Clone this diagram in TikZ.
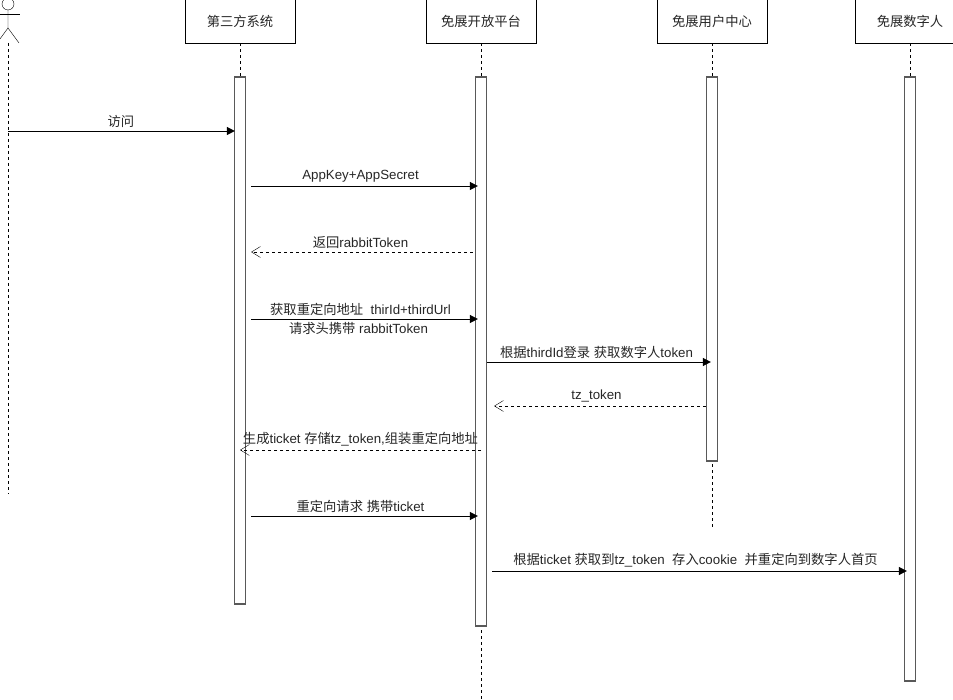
\documentclass[tikz,border=0pt]{standalone}
\usepackage{fontspec}
\setmainfont{Liberation Sans}
\newfontfamily\zhfont{Noto Sans CJK SC}
\usetikzlibrary{arrows.meta}

%% Han characters switch to the CJK font by themselves
\XeTeXinterchartokenstate=1
\newXeTeXintercharclass\zhclass
\count255="4E00
\loop\XeTeXcharclass\count255=\zhclass
  \ifnum\count255<"9FA5 \advance\count255 by 1 \repeat
\XeTeXinterchartoks 0 \zhclass = {\zhfont}
\XeTeXinterchartoks 4095 \zhclass = {\zhfont}
\XeTeXinterchartoks \zhclass 0 = {\normalfont}
\XeTeXinterchartoks \zhclass 4095 = {\normalfont}

\tikzset{
  part/.style={draw, fill=white, minimum width=110pt, minimum height=44pt, inner sep=0pt},
  actbar/.style={draw=black!65, fill=white, line width=1.2pt, minimum width=11pt, inner sep=0pt},
  life/.style={dash pattern=on 3pt off 3pt},
  call/.style={-{Triangle[length=8pt,width=8pt]}},
  reply/.style={dash pattern=on 3pt off 3pt, -{Straight Barb[length=9pt,width=11pt]}},
}

\begin{document}
\begin{tikzpicture}[x=1pt,y=-1pt,font=\fontsize{13.3}{15}\selectfont,text=black!85]
  \useasboundingbox (0,0) rectangle (953,700);

  %% actor
  \draw (8,4) circle (6);
  \draw (-4,14) -- (20,14);
  \draw (8,10) -- (8,28) -- (-3,43);
  \draw (8,28) -- (19,43);
  \coordinate (user) at (8,43);
  \coordinate (userend) at (8,494);

  %% participants
  \node[part] (sys) at (240,21) {第三方系统};
  \node[part] (plat) at (481,21) {免展开放平台};
  \node[part] (ucenter) at (712,21) {免展用户中心};
  \node[part] (dh) at (910,21) {免展数字人};
  \coordinate (platend) at (481,700);
  \coordinate (ucenterend) at (712,527);

  %% lifelines
  \draw[life] (user) -- (userend);
  \draw[life] (sys.south) -- (240,77);
  \draw[life] (plat.south) -- (481,77);
  \draw[life] (ucenter.south) -- (712,77);
  \draw[life] (dh.south) -- (910,77);
  \draw[life] (481,600) -- (platend);
  \draw[life] (712,440) -- (ucenterend);

  %% activation bars
  \node[actbar, minimum height=527pt] (sysbar) at (240,340.5) {};
  \node[actbar, minimum height=549pt] (platbar) at (481,351.5) {};
  \node[actbar, minimum height=384pt] (ucenterbar) at (712,269) {};
  \node[actbar, minimum height=604pt] (dhbar) at (910,379) {};

  %% messages
  \draw[call, shorten >=-1pt] (user |- 0,131) -- node[above] {访问} (sysbar.west |- 0,131);
  \draw[call, shorten <=5pt, shorten >=-3pt] (sysbar.east |- 0,186) -- node[above] {AppKey+AppSecret} (platbar.west |- 0,186);
  \draw[reply, shorten <=2pt, shorten >=5pt] (platbar.west |- 0,252) -- node[above] {返回rabbitToken} (sysbar.east |- 0,252);
  \draw[call, shorten <=5pt, shorten >=-3pt] (sysbar.east |- 0,319) -- node[above] {获取重定向地址\ \ thirId+thirdUrl}
    node[below, xshift=-2pt] {请求头携带 rabbitToken} (platbar.west |- 0,319);
  \draw[call, shorten >=-5pt] (platbar.east |- 0,362) -- node[above] {根据thirdId登录 获取数字人token} (ucenterbar.west |- 0,362);
  \draw[reply, shorten >=7pt] (ucenterbar.west |- 0,406) -- node[above] {tz\_token} (platbar.east |- 0,406);
  \draw[reply] (platbar |- 0,450) -- node[above] {生成ticket 存储tz\_token,组装重定向地址} (sysbar |- 0,450);
  \draw[call, shorten <=5pt, shorten >=-3pt] (sysbar.east |- 0,516) -- node[above] {重定向请求 携带ticket} (platbar.west |- 0,516);
  \draw[call, shorten <=5pt, shorten >=-3pt] (platbar.east |- 0,571) -- node[above] {根据ticket 获取到tz\_token\ \ 存入cookie\ \ 并重定向到数字人首页} (dhbar.west |- 0,571);
\end{tikzpicture}
\end{document}
